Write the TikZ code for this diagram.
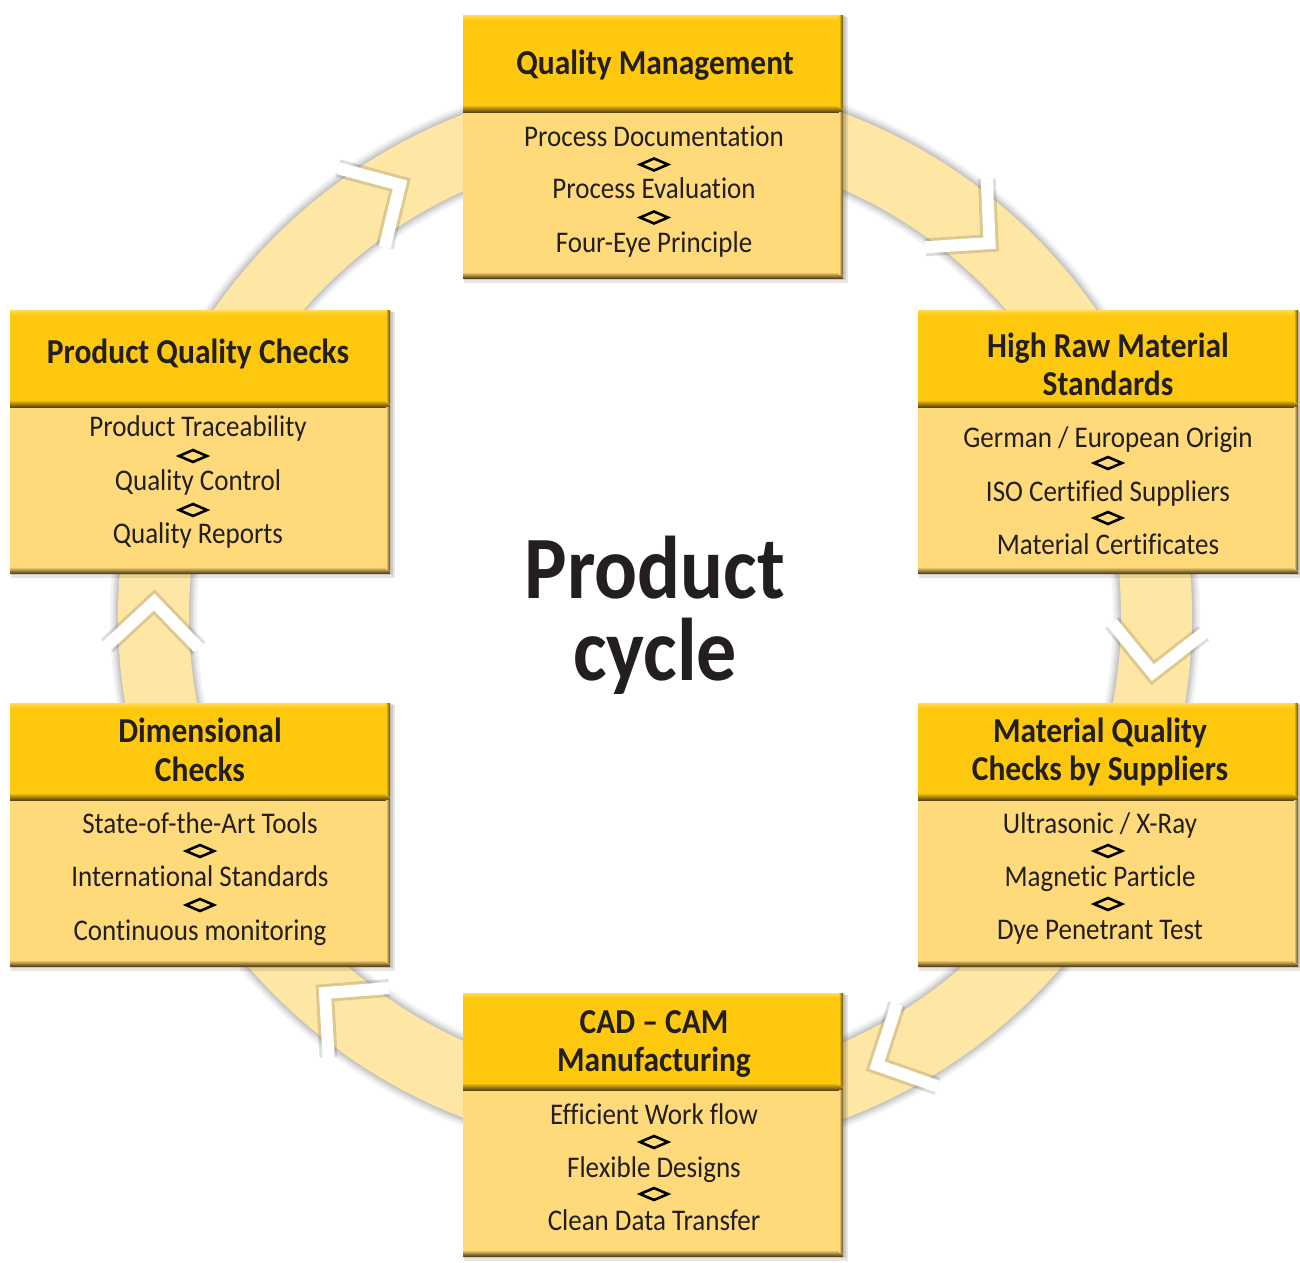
\documentclass[tikz,border=0pt]{standalone}
\usepackage{fontspec}
\setmainfont{Carlito}[FakeStretch=0.9,Ligatures={TeX,NoCommon}]
\usetikzlibrary{shapes.geometric}
\definecolor{ringcol}{HTML}{FEE6A5}
\definecolor{headcol}{HTML}{FDC80E}
\definecolor{headlight}{HTML}{FFDD55}
\definecolor{bodycol}{HTML}{FFDA7B}
\definecolor{bevelcol}{HTML}{5C4614}
\definecolor{txtcol}{HTML}{231F20}
\tikzset{
  headbox/.style={rectangle, fill=headcol, draw=none, minimum width=380, minimum height=97, inner sep=0},
  bodybox/.style={rectangle, fill=bodycol, draw=none, minimum width=380, minimum height=166, inner sep=0},
  bodytxt/.style={font=\fontsize{30}{36}\selectfont, text=txtcol, inner sep=0, anchor=base},
  headtxt/.style={font=\bfseries\fontsize{35}{40}\selectfont, text=txtcol, inner sep=0, anchor=base},
  titletxt/.style={font=\bfseries\fontsize{89}{92}\selectfont, text=txtcol, inner sep=0, anchor=base},
  sepdia/.style={diamond, draw=black, line width=2.6, minimum width=29, minimum height=13, inner sep=0, fill=none},
  chevshadow/.style={black, opacity=0.13, line width=18, line join=miter},
  chevron/.style={white, line width=12, line join=miter},
}
\newcommand{\qcbox}[3]{%
  \fill[black,opacity=0.10] (#2+1,#3+2) rectangle (#2+385,#3+268);
  \fill[black,opacity=0.12] (#2+1,#3+1) rectangle (#2+383,#3+265);
  \node[bodybox] (#1body) at (#2+190,#3+180) {};
  \node[headbox] (#1head) at (#2+190,#3+48.5) {};
  \shade[top color=headlight, bottom color=headcol] (#2,#3) rectangle (#2+380,#3+5);
  \shade[top color=headcol, bottom color=bevelcol] (#2,#3+90) rectangle (#2+380,#3+97);
  \shade[top color=bodycol, bottom color=bevelcol] (#2,#3+257) rectangle (#2+380,#3+263);
  \shade[left color=headcol, right color=bevelcol] (#2+376,#3) rectangle (#2+380,#3+92);
  \shade[left color=bodycol, right color=bevelcol] (#2+376,#3+97) rectangle (#2+380,#3+259);
}
\begin{document}
\begin{tikzpicture}[x=1pt,y=-1pt]
\useasboundingbox (0,0) rectangle (1300,1262);
\coordinate (C) at (655,616);
% ring with soft edge shadow
\foreach \w/\o in {16/0.05,11/0.06,7/0.07,3/0.08}{
  \draw[black,opacity=\o,line width=\w] (C) circle (537) (C) circle (466);
}
\fill[ringcol, even odd rule] (C) circle (537) (C) circle (466);
% chevrons (clockwise flow)
\foreach \t in {120.6,48.1,-6.5,-63.7,-131.2,178.4}{
  \draw[chevshadow] ({655+547*cos(\t)-45*sin(\t)},{616-547*sin(\t)-45*cos(\t)})
     -- ({655+501*cos(\t)},{616-501*sin(\t)})
     -- ({655+455*cos(\t)-45*sin(\t)},{616-455*sin(\t)-45*cos(\t)});
  \draw[chevron] ({655+547*cos(\t)-45*sin(\t)},{616-547*sin(\t)-45*cos(\t)})
     -- ({655+501*cos(\t)},{616-501*sin(\t)})
     -- ({655+455*cos(\t)-45*sin(\t)},{616-455*sin(\t)-45*cos(\t)});
}
% boxes
\qcbox{qm}{463}{15}
\qcbox{pqc}{10}{310}
\qcbox{hrm}{918}{310}
\qcbox{dc}{10}{703}
\qcbox{mqc}{918}{703}
\qcbox{cad}{463}{993}
% Quality Management
\node[headtxt] (qmh1) at (655,74) {Quality Management};
\node[bodytxt] (qm1) at (654,146) {Process Documentation};
\node[sepdia] (qmd1) at (654,164.5) {};
\node[bodytxt] (qm2) at (654,198) {Process Evaluation};
\node[sepdia] (qmd2) at (654,217.5) {};
\node[bodytxt] (qm3) at (654,252) {Four-Eye Principle};
% Product Quality Checks
\node[headtxt] (pqch1) at (198,363) {Product Quality Checks};
\node[bodytxt] (pqc1) at (198,436) {Product Traceability};
\node[sepdia] (pqcd1) at (193,456) {};
\node[bodytxt] (pqc2) at (198,490) {Quality Control};
\node[sepdia] (pqcd2) at (193,510) {};
\node[bodytxt] (pqc3) at (198,543) {Quality Reports};
% High Raw Material Standards
\node[headtxt] (hrmh1) at (1108,357) {High Raw Material};
\node[headtxt] (hrmh2) at (1108,395) {Standards};
\node[bodytxt] (hrm1) at (1108,447) {German / European Origin};
\node[sepdia] (hrmd1) at (1108,463) {};
\node[bodytxt] (hrm2) at (1108,501) {ISO Certified Suppliers};
\node[sepdia] (hrmd2) at (1108,518) {};
\node[bodytxt] (hrm3) at (1108,554) {Material Certificates};
% Dimensional Checks
\node[headtxt] (dch1) at (200,742) {Dimensional};
\node[headtxt] (dch2) at (200,781) {Checks};
\node[bodytxt] (dc1) at (200,833) {State-of-the-Art Tools};
\node[sepdia] (dcd1) at (200,851) {};
\node[bodytxt] (dc2) at (200,886) {International Standards};
\node[sepdia] (dcd2) at (200,905) {};
\node[bodytxt] (dc3) at (200,940) {Continuous monitoring};
% Material Quality Checks by Suppliers
\node[headtxt] (mqch1) at (1100,742) {Material Quality};
\node[headtxt] (mqch2) at (1100,780) {Checks by Suppliers};
\node[bodytxt] (mqc1) at (1100,833) {Ultrasonic / X-Ray};
\node[sepdia] (mqcd1) at (1108,851) {};
\node[bodytxt] (mqc2) at (1100,886) {Magnetic Particle};
\node[sepdia] (mqcd2) at (1108,904) {};
\node[bodytxt] (mqc3) at (1100,939) {Dye Penetrant Test};
% CAD - CAM Manufacturing
\node[headtxt] (cadh1) at (654,1033) {CAD \textendash{} CAM};
\node[headtxt] (cadh2) at (654,1071) {Manufacturing};
\node[bodytxt] (cad1) at (654,1124) {Efficient Work flow};
\node[sepdia] (cadd1) at (654,1142) {};
\node[bodytxt] (cad2) at (654,1177) {Flexible Designs};
\node[sepdia] (cadd2) at (654,1194) {};
\node[bodytxt] (cad3) at (654,1230) {Clean Data Transfer};
% title
\node[titletxt] (title1) at (655,598) {Product};
\node[titletxt] (title2) at (655,680) {cycle};
\end{tikzpicture}
\end{document}
